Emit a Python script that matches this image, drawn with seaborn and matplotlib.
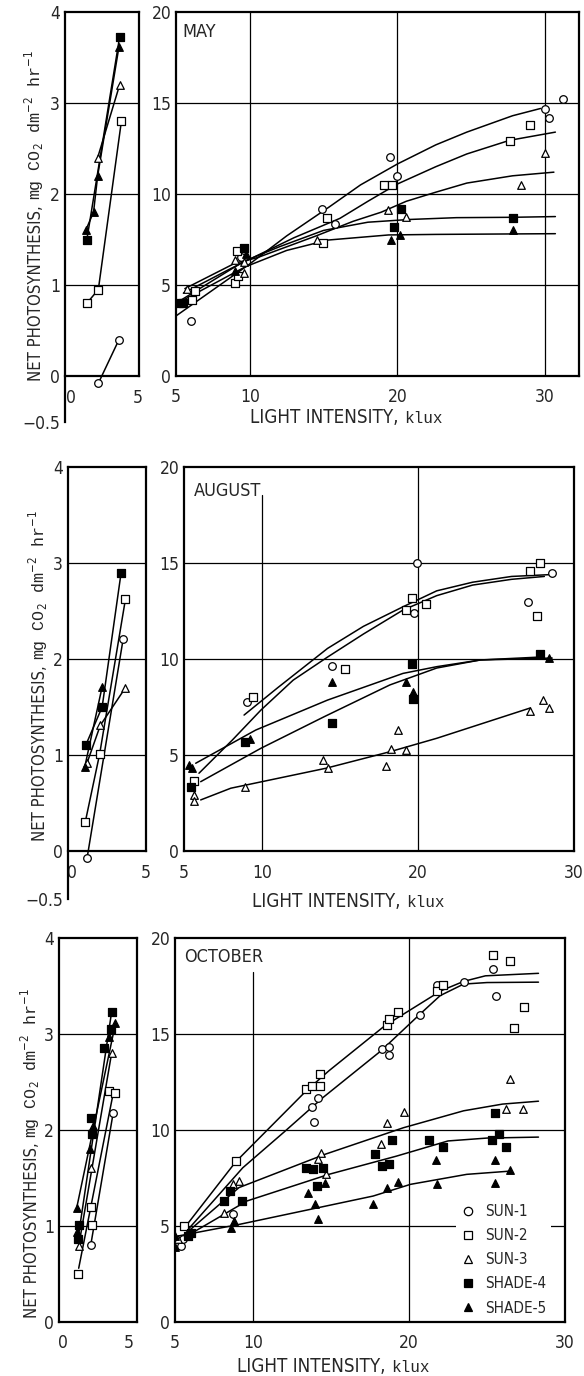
import seaborn as sns
import matplotlib.pyplot as plt
from matplotlib.lines import Line2D

# ---------------- data ----------------
SERIES = ['SUN-1', 'SUN-2', 'SUN-3', 'SHADE-4', 'SHADE-5']
MARKERS = {'SUN-1': 'o', 'SUN-2': 's', 'SUN-3': '^', 'SHADE-4': 's', 'SHADE-5': '^'}
FACES = {'SUN-1': 'white', 'SUN-2': 'white', 'SUN-3': 'white',
         'SHADE-4': 'black', 'SHADE-5': 'black'}

# MAY, low light (0-5 klux)
may_low_pts = {
    'SUN-1': ([2.05, 3.6], [-0.08, 0.4]),
    'SUN-2': ([1.19, 2.05, 3.78], [0.8, 0.95, 2.8]),
    'SUN-3': ([2.0, 3.65], [2.4, 3.2]),
    'SHADE-4': ([1.19, 3.64], [1.5, 3.72]),
    'SHADE-5': ([1.1, 1.69, 2.0, 3.6], [1.6, 1.8, 2.2, 3.62]),
}
# MAY, 5-30 klux
may_pts = {
    'SUN-1': ([6.02, 9.43, 14.9, 15.8, 19.53, 19.96, 30.0, 30.3, 31.2],
              [3.02, 6.56, 9.16, 8.35, 12.02, 10.99, 14.67, 14.2, 15.2]),
    'SUN-2': ([6.06, 6.3, 9.02, 9.11, 9.22, 15.24, 14.94, 19.12, 19.64, 27.6, 29.0],
              [4.18, 4.69, 5.13, 6.87, 5.51, 8.66, 7.29, 10.49, 10.49, 12.9, 13.8]),
    'SUN-3': ([5.72, 8.98, 9.63, 9.59, 14.54, 19.35, 20.55, 28.4, 30.0],
              [4.76, 6.36, 6.25, 5.68, 7.47, 9.12, 8.72, 10.48, 12.27]),
    'SHADE-4': ([5.2, 5.45, 9.59, 20.25, 19.8, 27.8],
                [4.03, 4.03, 7.05, 9.16, 8.2, 8.69]),
    'SHADE-5': ([5.05, 8.98, 9.75, 19.58, 20.19, 27.8],
                [4.0, 5.77, 6.7, 7.47, 7.75, 8.04]),
}
may_curves = {
    'SUN-1': ([5.0, 9.9, 12.5, 15.4, 17.5, 20.0, 22.6, 24.7, 27.8, 29.7],
              [3.3, 6.1, 7.7, 9.3, 10.5, 11.65, 12.7, 13.4, 14.3, 14.7]),
    'SUN-2': ([5.5, 8.7, 10.2, 13.0, 16.1, 18.0, 20.0, 22.6, 24.7, 27.6, 30.7],
              [4.55, 5.9, 6.5, 7.6, 8.66, 9.6, 10.55, 11.5, 12.2, 12.95, 13.4]),
    'SUN-3': ([5.6, 9.0, 10.5, 14.5, 17.0, 18.9, 20.6, 22.6, 24.7, 27.8, 30.6],
              [4.8, 6.2, 6.5, 7.7, 8.5, 9.0, 9.6, 10.1, 10.6, 11.0, 11.2]),
    'SHADE-4': ([5.2, 9.6, 12.0, 15.0, 18.0, 20.8, 24.0, 27.8, 30.7],
                [4.1, 6.3, 7.1, 8.0, 8.45, 8.6, 8.7, 8.72, 8.76]),
    'SHADE-5': ([5.1, 9.7, 12.5, 15.3, 19.4, 22.6, 30.7],
                [4.0, 6.0, 6.9, 7.47, 7.75, 7.78, 7.82]),
}

# AUGUST, low light
aug_low_pts = {
    'SUN-1': ([1.0, 3.45], [-0.07, 2.21]),
    'SUN-2': ([0.87, 1.85, 3.6], [0.3, 1.01, 2.62]),
    'SUN-3': ([1.0, 1.9, 3.6], [0.92, 1.31, 1.7]),
    'SHADE-4': ([0.9, 2.02, 3.31], [1.1, 1.5, 2.9]),
    'SHADE-5': ([0.83, 2.02], [0.87, 1.71]),
}
# AUGUST, 5-30 klux
aug_pts = {
    'SUN-1': ([9.04, 14.46, 19.93, 19.76, 27.06, 28.6],
              [7.74, 9.61, 15.0, 12.42, 12.99, 14.46]),
    'SUN-2': ([5.66, 9.44, 15.3, 19.2, 19.6, 20.5, 27.2, 27.8, 27.6],
              [3.64, 8.02, 9.5, 12.55, 13.2, 12.87, 14.6, 15.0, 12.26]),
    'SUN-3': ([5.66, 5.66, 8.9, 13.9, 14.26, 17.95, 18.24, 18.7, 19.2, 27.2, 28.0, 28.4],
              [2.9, 2.6, 3.34, 4.76, 4.33, 4.45, 5.32, 6.29, 5.28, 7.27, 7.88, 7.45]),
    'SHADE-4': ([5.47, 8.9, 14.46, 19.6, 19.7, 27.8],
                [3.32, 5.66, 6.67, 9.75, 7.91, 10.25]),
    'SHADE-5': ([5.3, 5.54, 9.23, 14.5, 19.2, 19.7, 28.4],
                [4.47, 4.33, 5.84, 8.78, 8.8, 8.28, 10.04]),
}
aug_curves = {
    'SUN-1': ([5.96, 8.1, 9.93, 12.0, 14.2, 16.5, 19.04, 21.2, 23.5, 26.0, 28.1],
              [4.05, 5.78, 7.34, 8.9, 10.1, 11.3, 12.55, 13.3, 13.85, 14.15, 14.3]),
    'SUN-2': ([8.85, 11.0, 14.2, 16.5, 19.04, 21.2, 23.5, 26.0, 28.6],
              [7.08, 8.5, 10.55, 11.7, 12.72, 13.55, 14.0, 14.3, 14.4]),
    'SUN-3': ([6.07, 8.0, 14.1, 18.2, 21.2, 27.2],
              [2.66, 3.27, 4.31, 5.17, 5.87, 7.45]),
    'SHADE-4': ([6.07, 9.93, 14.0, 18.2, 21.2, 24.0, 27.8],
                [3.61, 5.35, 7.0, 8.65, 9.53, 9.95, 10.1]),
    'SHADE-5': ([5.75, 9.6, 14.2, 19.04, 21.2, 24.0, 28.6],
                [4.57, 6.3, 7.86, 9.25, 9.6, 9.95, 10.05]),
}

# OCTOBER, low light
oct_low_pts = {
    'SUN-1': ([2.1, 3.8], [0.8, 2.18]),
    'SUN-2': ([1.13, 2.1, 2.2, 3.45, 3.97], [0.5, 1.2, 1.01, 2.41, 2.39]),
    'SUN-3': ([1.19, 2.1, 3.68], [0.79, 1.6, 2.8]),
    'SHADE-4': ([1.13, 1.19, 2.1, 2.2, 3.1, 3.6, 3.68], [0.86, 1.01, 2.12, 1.96, 2.85, 3.05, 3.23]),
    'SHADE-5': ([1.04, 1.04, 2.04, 2.26, 3.5, 3.97], [0.94, 1.19, 1.8, 2.04, 2.97, 3.11]),
}
oct_low_lines = {
    'SUN-1': ([2.1, 3.8], [0.8, 2.18]),
    'SUN-2': ([1.19, 3.74], [0.56, 2.34]),
    'SUN-3': ([1.19, 3.68], [0.79, 2.8]),
    'SHADE-4': ([1.13, 3.68], [0.86, 3.23]),
    'SHADE-5': ([1.04, 3.97], [1.19, 3.11]),
}
# OCTOBER, 5-30 klux
oct_pts = {
    'SUN-1': ([5.38, 5.5, 8.74, 13.78, 14.14, 13.9, 18.3, 18.7, 18.7, 20.7, 21.8, 23.5, 25.4, 25.6],
              [3.95, 4.3, 5.6, 11.2, 11.65, 10.43, 14.2, 14.3, 13.9, 16.0, 17.56, 17.69, 18.38, 16.96]),
    'SUN-2': ([5.58, 8.9, 13.37, 13.78, 14.28, 14.28, 18.57, 18.7, 19.3, 21.8, 22.2, 25.4, 26.5, 27.4, 26.7],
              [4.99, 8.38, 12.12, 12.3, 12.3, 12.9, 15.48, 15.77, 16.17, 17.25, 17.56, 19.1, 18.8, 16.4, 15.3]),
    'SUN-3': ([5.2, 8.14, 8.74, 9.1, 14.38, 14.14, 14.66, 18.2, 18.57, 19.65, 26.5, 26.2, 27.3],
              [4.3, 5.69, 7.17, 7.34, 8.82, 8.47, 7.69, 9.25, 10.38, 10.94, 12.64, 11.08, 11.08]),
    'SHADE-4': ([5.86, 6.0, 8.14, 8.55, 9.3, 13.4, 13.85, 14.5, 14.1, 17.85, 18.3, 18.7, 18.9,
                 21.3, 22.2, 25.3, 25.5, 25.8, 26.2],
                [4.47, 4.64, 6.3, 6.82, 6.3, 8.03, 7.95, 8.03, 7.08, 8.73, 8.12, 8.21, 9.46,
                 9.46, 9.11, 9.5, 10.9, 9.77, 9.11]),
    'SHADE-5': ([5.0, 5.0, 8.62, 8.8, 13.5, 14.0, 14.14, 14.6, 17.7, 18.57, 19.3, 21.7, 21.8,
                 25.5, 25.5, 26.5],
                [3.9, 4.47, 4.9, 5.25, 6.73, 6.12, 5.34, 7.25, 6.12, 6.99, 7.3, 8.43, 7.21,
                 8.42, 7.25, 7.9]),
}
oct_curves = {
    'SUN-1': ([5.74, 9.34, 12.0, 14.5, 18.2, 20.7, 22.0, 23.5, 25.0, 28.3],
              [4.73, 8.03, 9.9, 11.7, 14.12, 16.03, 17.0, 17.6, 17.68, 17.7]),
    'SUN-2': ([5.86, 8.9, 13.4, 14.86, 18.45, 22.05, 23.5, 24.9, 28.3],
              [5.17, 8.35, 12.03, 13.08, 15.43, 17.25, 17.74, 18.03, 18.16]),
    'SUN-3': ([5.62, 9.1, 14.6, 19.65, 23.5, 26.0, 28.3],
              [4.56, 7.0, 8.73, 10.12, 11.0, 11.35, 11.5]),
    'SHADE-4': ([5.74, 9.6, 14.86, 19.2, 22.5, 25.0, 28.3],
                [4.47, 6.3, 7.69, 8.64, 9.43, 9.58, 9.63]),
    'SHADE-5': ([5.14, 9.1, 17.7, 20.1, 23.7, 26.5],
                [4.47, 5.08, 6.56, 7.17, 7.69, 7.86]),
}

# ---------------- style ----------------
sns.set_style('white')
SANS = ['Liberation Sans Narrow', 'DejaVu Sans']
MONO = ['Liberation Mono', 'DejaVu Sans Mono']
plt.rcParams['font.family'] = SANS
plt.rcParams['font.stretch'] = 'condensed'

W, H = 584, 1376
fig = plt.figure(figsize=(W / 100, H / 100), dpi=100)


def px_axes(x0, y0, x1, y1):
    # pixel box of the scan -> figure fraction
    return fig.add_axes([x0 / W, 1 - y1 / H, (x1 - x0) / W, (y1 - y0) / H])


def draw_series(ax, pts, lines=None):
    if lines is None:
        lines = pts
    for name in SERIES:
        lx, ly = lines[name]
        sns.lineplot(x=lx, y=ly, ax=ax, color='black', lw=1.1, sort=False,
                     estimator=None, zorder=2)
        px, py = pts[name]
        sns.scatterplot(x=px, y=py, ax=ax, marker=MARKERS[name], color=FACES[name],
                        edgecolor='black', linewidth=0.9, s=30, zorder=3)


def style_axes(ax):
    for sp in ax.spines.values():
        sp.set_color('black')
        sp.set_linewidth(1.6)
    ax.tick_params(axis='y', direction='in', length=7, width=1.2, pad=3.5, labelsize=12.5)
    ax.tick_params(axis='x', length=0, pad=9, labelsize=12.5)
    ax.set_xlabel('')
    ax.set_ylabel('')


def low_panel(box, xlim, pts, lines=None, neg=True):
    ax = px_axes(*box)
    draw_series(ax, pts, lines)
    for v in [1, 2, 3]:
        ax.axhline(v, color='black', lw=0.9, zorder=1)
    ax.set_xlim(*xlim)
    ax.set_xticks([0, 5])
    if neg:
        ax.set_ylim(-0.5, 4)
        ax.spines['bottom'].set_position(('data', 0))
        ax.spines['right'].set_bounds(0, 4)
        ax.set_yticks([-0.5, 0, 1, 2, 3, 4])
        ax.set_yticklabels(['\u22120.5', '0', '1', '2', '3', '4'])
    else:
        ax.set_ylim(0, 4)
        ax.set_yticks([0, 1, 2, 3, 4])
    style_axes(ax)
    return ax


def high_panel(box, xmax, pts, curves, month, vlines, mpos):
    ax = px_axes(*box)
    draw_series(ax, pts, curves)
    for v in [5, 10, 15]:
        ax.axhline(v, color='black', lw=0.9, zorder=1)
    for v, top in vlines:
        ax.axvline(v, ymax=top, color='black', lw=0.9, zorder=1)
    ax.set_xlim(5, xmax)
    ax.set_ylim(0, 20)
    ax.set_xticks([5, 10, 20, 30])
    ax.set_yticks([0, 5, 10, 15, 20])
    style_axes(ax)
    ax.text(mpos[0], mpos[1], month, transform=ax.transAxes, ha='left', va='top',
            fontsize=13)
    return ax


def y_title(ax, xb, yb):
    ax.text(xb, yb, 'NET PHOTOSYNTHESIS, ', transform=ax.transAxes, rotation=90,
            rotation_mode='anchor', ha='right', va='baseline', fontsize=12)
    ax.text(xb, yb, r'mg CO$_2$ dm$^{-2}$ hr$^{-1}$', transform=ax.transAxes,
            rotation=90, rotation_mode='anchor', ha='left', va='baseline',
            fontsize=12, family=MONO)


def x_title(ax, xb, yb):
    ax.text(xb, yb, 'LIGHT INTENSITY, ', transform=ax.transAxes, ha='right',
            va='baseline', fontsize=13.5)
    ax.text(xb, yb, 'klux', transform=ax.transAxes, ha='left', va='baseline',
            fontsize=11.5, family=MONO)


# ---------------- MAY ----------------
a1 = low_panel((65, 12, 139, 421.5), (-0.45, 5.1), may_low_pts)
b1 = high_panel((176, 12, 579, 376), 32.3, may_pts, may_curves, 'MAY',
                [(10, 1), (20, 1), (30, 1)], (0.017, 0.97))
y_title(a1, -0.32, 0.54)
x_title(b1, 0.566, -0.129)

# ---------------- AUGUST ----------------
a2 = low_panel((68, 467, 146, 899), (-0.3, 5.0), aug_low_pts)
b2 = high_panel((184, 467, 574, 851), 30, aug_pts, aug_curves, 'AUGUST',
                [(10, 0.927), (20, 1)], (0.026, 0.961))
y_title(a2, -0.295, 0.553)
x_title(b2, 0.569, -0.146)

# ---------------- OCTOBER ----------------
a3 = low_panel((59, 938, 137, 1322), (-0.3, 5.6), oct_low_pts, oct_low_lines, neg=False)
b3 = high_panel((175, 938, 565, 1322), 30, oct_pts, oct_curves, 'OCTOBER',
                [(10, 0.911), (20, 1)], (0.023, 0.974))
y_title(a3, -0.276, 0.48)
x_title(b3, 0.554, -0.130)

handles = [Line2D([], [], ls='none', marker=MARKERS[n], mfc=FACES[n], mec='black',
                  mew=0.9, ms=6) for n in SERIES]
leg = b3.legend(handles, SERIES, loc='lower left', bbox_to_anchor=(0.70, -0.015),
                frameon=True, facecolor='white', edgecolor='none', framealpha=1,
                fontsize=11, handlelength=1.0, handletextpad=0.6, labelspacing=0.6,
                borderpad=0.3)
leg.set_zorder(4)

fig.savefig('out.png', dpi=100, facecolor='white')
